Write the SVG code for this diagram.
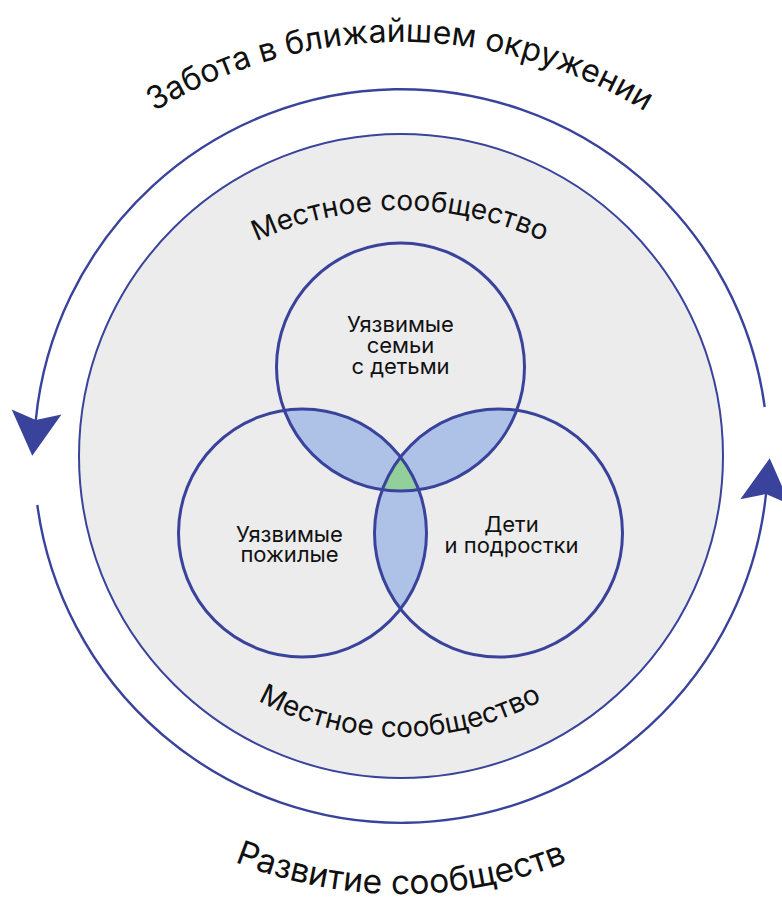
<svg xmlns="http://www.w3.org/2000/svg" width="782" height="899" viewBox="0 0 782 899">
  <style>
    .ring { fill: none; stroke: #3a439b; stroke-width: 2.4; }
    .community { fill: #ececec; stroke: #3a439b; stroke-width: 2; }
    .group { fill: none; stroke: #3a439b; stroke-width: 3; }
    .lens { fill: #aec2e7; }
    .core { fill: #92cf9b; }
    .big { font-family: Inter, "Noto Sans", "DejaVu Sans", sans-serif; font-size: 32px; fill: #111; }
    .big2 { font-family: Inter, "Noto Sans", "DejaVu Sans", sans-serif; font-size: 33.5px; fill: #111; }
    .mid { font-family: Inter, "Noto Sans", "DejaVu Sans", sans-serif; font-size: 28px; fill: #111; }
    .lbl { font-family: Inter, "Noto Sans", "DejaVu Sans", sans-serif; font-size: 22px; fill: #111; text-anchor: middle; }
  </style>
  <defs>
    <marker id="arrow" markerUnits="userSpaceOnUse" markerWidth="80" markerHeight="80" refX="0" refY="0" orient="auto" overflow="visible">
      <path d="M36,0 L-8,-25 L0,0 L-8,25 Z" fill="#3a439b"/>
    </marker>
    <clipPath id="clipTop"><circle cx="400.5" cy="367" r="124"/></clipPath>
    <clipPath id="clipLeft"><circle cx="302.5" cy="533" r="124"/></clipPath>
    <clipPath id="clipRight"><circle cx="498.5" cy="533" r="124"/></clipPath>
    <path id="pTopOuter" d="M -67 509 A 467 467 0 0 1 867 509"/>
    <path id="pBottomOuter" d="M -48 445 A 449 449 0 0 0 850 445"/>
    <path id="pTopMid" d="M 56 554 A 344 344 0 0 1 744 554"/>
    <path id="pBottomMid" d="M 106 443 A 294 294 0 0 0 694 443"/>
  </defs>

  <g id="connectors">
    <path class="ring" d="M 764.7 407 A 367 367 0 0 0 35.8 420" marker-end="url(#arrow)"/>
    <path class="ring" d="M 37.3 505 A 367 367 0 0 0 766 494" marker-end="url(#arrow)"/>
  </g>

  <g id="outer-labels">
    <text class="big"><textPath href="#pTopOuter" startOffset="50%" text-anchor="middle">Забота в ближайшем окружении</textPath></text>
    <text class="big2"><textPath href="#pBottomOuter" startOffset="50%" text-anchor="middle">Развитие сообществ</textPath></text>
  </g>

  <g id="community">
    <circle class="community" cx="401" cy="456" r="322"/>
    <text class="mid"><textPath href="#pTopMid" startOffset="50%" text-anchor="middle">Местное сообщество</textPath></text>
    <text class="mid"><textPath href="#pBottomMid" startOffset="50%" text-anchor="middle">Местное сообщество</textPath></text>
  </g>

  <g id="overlaps">
    <circle class="lens" cx="400.5" cy="367" r="124" clip-path="url(#clipLeft)"/>
    <circle class="lens" cx="400.5" cy="367" r="124" clip-path="url(#clipRight)"/>
    <circle class="lens" cx="302.5" cy="533" r="124" clip-path="url(#clipRight)"/>
    <g clip-path="url(#clipLeft)">
      <circle class="core" cx="400.5" cy="367" r="124" clip-path="url(#clipRight)"/>
    </g>
  </g>

  <g id="families">
    <circle class="group" cx="400.5" cy="367" r="124"/>
    <text class="lbl" x="400.5" y="332">Уязвимые</text>
    <text class="lbl" x="400.5" y="353">семьи</text>
    <text class="lbl" x="400.5" y="374">с детьми</text>
  </g>

  <g id="elderly">
    <circle class="group" cx="302.5" cy="533" r="124"/>
    <text class="lbl" x="289.5" y="541.5">Уязвимые</text>
    <text class="lbl" x="289.5" y="562">пожилые</text>
  </g>

  <g id="children">
    <circle class="group" cx="498.5" cy="533" r="124"/>
    <text class="lbl" x="511.5" y="531.5">Дети</text>
    <text class="lbl" x="511.5" y="553">и подростки</text>
  </g>
</svg>
